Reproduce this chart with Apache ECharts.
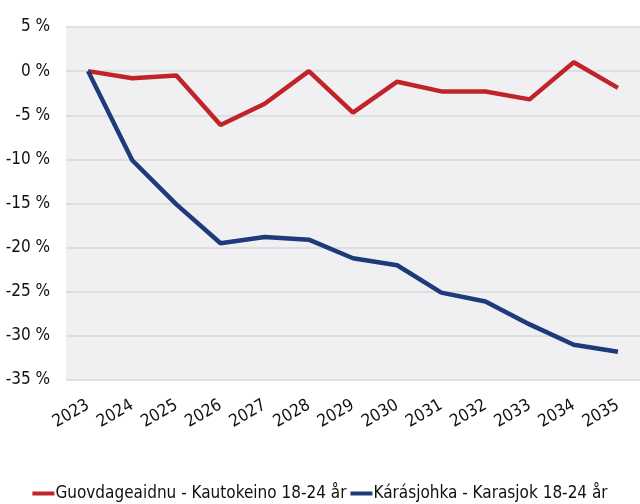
<!DOCTYPE html>
<html>
<head>
<meta charset="utf-8">
<script src="https://cdn.jsdelivr.net/npm/echarts@6/dist/echarts.min.js"></script>
<style>
html, body { margin: 0; padding: 0; background: #fff; }
#chart { width: 640px; height: 504px; }
</style>
</head>
<body>
<div id="chart"></div>
<script>
// år
var years = ['2023', '2024', '2025', '2026', '2027', '2028', '2029', '2030', '2031', '2032', '2033', '2034', '2035'];
// endring i prosent
var kautokeino = [0, -0.8, -0.5, -6.1, -3.7, 0, -4.7, -1.2, -2.3, -2.3, -3.2, 1.0, -1.9];
var karasjok = [0, -10.1, -15.1, -19.5, -18.8, -19.1, -21.2, -22.0, -25.1, -26.1, -28.7, -31.0, -31.8];
var names = ['Guovdageaidnu - Kautokeino 18-24 år', 'Kárásjohka - Karasjok 18-24 år'];

var fontName = '"Liberation Sans Narrow", "DejaVu Sans Condensed", sans-serif';

var chart = echarts.init(document.getElementById('chart'));
var option = {
	backgroundColor : '#ffffff',
	animation : false,
	grid : {
		left : 66,
		right : 0,
		top : 27,
		bottom : 124,
		show : true,
		backgroundColor : '#f0f0f2',
		borderWidth : 0
	},
	legend : {
		bottom : 2,
		left : 'center',
		padding : 0,
		itemWidth : 22,
		itemHeight : 4,
		itemGap : 4,
		icon : 'rect',
		textStyle : {
			fontFamily : fontName,
			fontSize : 17,
			color : '#111',
			padding : [0, 0, 0, -4]
		},
		data : names
	},
	xAxis : {
		type : 'category',
		data : years,
		boundaryGap : true,
		axisLine : { show : false },
		axisTick : { show : false },
		axisLabel : {
			rotate : 30,
			margin : 24,
			interval : 0,
			fontFamily : fontName,
			fontSize : 17,
			color : '#111'
		}
	},
	yAxis : {
		type : 'value',
		min : -35,
		max : 5,
		interval : 5,
		axisLine : { show : false },
		axisTick : { show : false },
		splitLine : { lineStyle : { color : '#d8d8da', width : 1.5 } },
		axisLabel : {
			margin : 16,
			fontFamily : fontName,
			fontSize : 17,
			color : '#111',
			formatter : function(v) { return v + ' %'; }
		}
	},
	series : [ {
		name : names[0],
		type : 'line',
		data : kautokeino,
		symbol : 'none',
		lineStyle : { color : '#c0242a', width : 4.5 },
		itemStyle : { color : '#c0242a' }
	}, {
		name : names[1],
		type : 'line',
		data : karasjok,
		symbol : 'none',
		lineStyle : { color : '#1e3a7a', width : 4.5 },
		itemStyle : { color : '#1e3a7a' }
	} ]
};
chart.setOption(option);
</script>
</body>
</html>
